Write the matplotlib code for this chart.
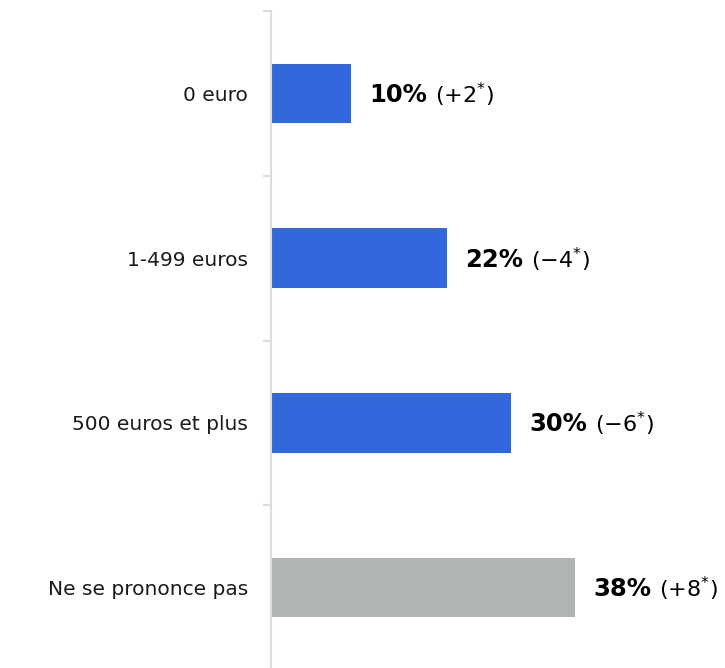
import matplotlib
matplotlib.use('Agg')
import matplotlib.pyplot as plt
import numpy as np

# Data
categories = ['0 euro', '1-499 euros', '500 euros et plus', 'Ne se prononce pas']
values = [10, 22, 30, 38]
changes = ['+2', '−4', '−6', '+8']
bar_colors = ['#3169DC', '#3169DC', '#3169DC', '#B1B4B5']

plt.rcParams['font.family'] = ['DejaVu Sans']
plt.rcParams['mathtext.fontset'] = 'dejavusans'

fig = plt.figure(figsize=(7.25, 6.68), dpi=100)
ax = fig.add_axes([271 / 725, -2 / 668, 1 - 271 / 725, 659 / 668])

y = np.arange(len(categories))
ax.barh(y, values, height=0.36, color=bar_colors)
ax.set_ylim(len(categories) - 0.5, -0.5)
ax.set_xlim(0, 56.75)

# axis styling
for side in ['top', 'right', 'bottom']:
    ax.spines[side].set_visible(False)
ax.spines['left'].set_color('#DCDCDC')
ax.spines['left'].set_linewidth(1.5)
ax.set_xticks([])
ax.set_yticks(y)
ax.set_yticklabels(categories, fontsize=14.5, color='#1a1a1a')
ax.tick_params(axis='y', which='major', length=0, pad=16.5)
ax.set_yticks(np.arange(-0.5, len(categories)), minor=True)
ax.tick_params(axis='y', which='minor', length=6, width=1.5, color='#DCDCDC')

# value labels: bold percentage then change in brackets
for i, (v, c) in enumerate(zip(values, changes)):
    t = ax.annotate(f'{v}%', xy=(v, i), xytext=(13, -1), textcoords='offset points',
                    va='center', ha='left', fontsize=17.5, fontweight='bold', color='black')
    ax.annotate(f'({c}$^{{*}}$)', xy=(1, 0.5), xycoords=t, xytext=(6, 0),
                textcoords='offset points', va='center', ha='left', fontsize=16, color='black')

fig.savefig('out.png', dpi=100)
